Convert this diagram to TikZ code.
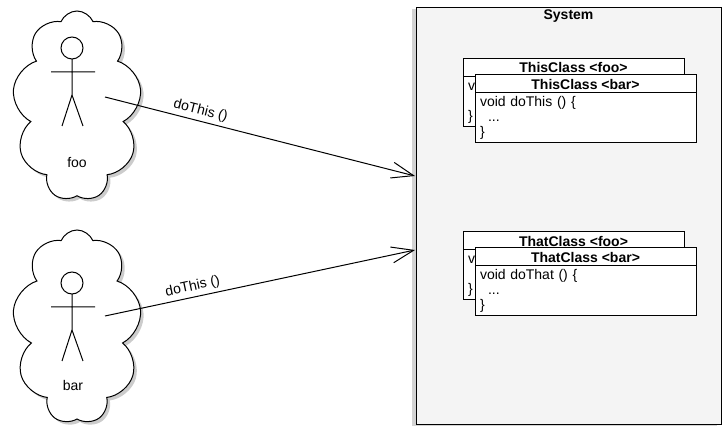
\documentclass[tikz,border=0pt]{standalone}
\usepackage{fontspec}
\setmainfont{Liberation Sans}
\usetikzlibrary{arrows.meta,positioning,shapes.symbols,shadows}
\definecolor{sysgray}{RGB}{244,244,244}
\newcommand{\stickman}[1]{%
  \draw (#1) circle[radius=11pt]
    (#1) ++(0,11) -- ++(0,36)
    (#1) ++(-21,24) -- ++(44,0)
    (#1) ++(0,47) -- ++(-10,31)
    (#1) ++(0,47) -- ++(11,31);
}

\begin{document}
\begin{tikzpicture}[
    x=1pt, y=-1pt,
    line width=1pt,
    font=\fontsize{14}{15}\selectfont,
    >={Straight Barb[length=22pt,width=16pt]},
    actorcloud/.style={cloud, cloud puffs=9, cloud puff arc=135,
      cloud ignores aspect, draw, fill=white, minimum width=129pt,
      drop shadow={shadow xshift=3pt, shadow yshift=-3pt, opacity=.4}},
    sysbox/.style={draw, fill=sysgray, minimum width=305pt,
      minimum height=417pt, inner sep=0pt, outer sep=0pt,
      drop shadow={shadow xshift=-4pt, shadow yshift=-1pt, opacity=.35}},
    systitle/.style={font=\fontsize{14}{15}\selectfont\bfseries, inner sep=1pt},
    classhead/.style={draw, fill=white, minimum width=221pt,
      minimum height=18pt, inner sep=0pt, outer sep=0pt,
      font=\fontsize{14}{15}\selectfont\bfseries},
    classbody/.style={draw, fill=white, text width=211pt, inner xsep=5pt,
      inner ysep=0pt, minimum height=50pt, outer sep=0pt, align=left}]

  \useasboundingbox (0,0) rectangle (723,427);

  % actors
  \node[actorcloud, minimum height=190pt] (foo_cloud) at (77,106) {};
  \node[actorcloud, minimum height=194pt] (bar_cloud) at (77,327) {};
  \coordinate (foo_head) at (72,48);
  \coordinate (bar_head) at (72,283);
  \stickman{foo_head}
  \stickman{bar_head}
  \node (foo_name) at (77,163) {foo};
  \node (bar_name) at (73,385) {bar};

  % system
  \node[sysbox] (system) at (568.5,216.5) {};
  \node[systitle, below=0pt of system.north] (system_title) {System};

  \node[classhead] (this_foo) at (573.5,68) {ThisClass <foo>};
  \node[classbody, below=0pt of this_foo] (this_foo_body)
    {void doThis () \{\\\hspace*{8pt}...\\\}};
  \node[classhead] (this_bar) at (585.5,84) {ThisClass <bar>};
  \node[classbody, below=0pt of this_bar] (this_bar_body)
    {void doThis () \{\\\hspace*{8pt}...\\\}};

  \node[classhead] (that_foo) at (573.5,241) {ThatClass <foo>};
  \node[classbody, below=0pt of that_foo] (that_foo_body)
    {void doThat () \{\\\hspace*{8pt}...\\\}};
  \node[classhead] (that_bar) at (585.5,257) {ThatClass <bar>};
  \node[classbody, below=0pt of that_bar] (that_bar_body)
    {void doThat () \{\\\hspace*{8pt}...\\\}};

  % calls
  \coordinate (foo_hand) at (105,97);
  \coordinate (bar_hand) at (105,316);
  \coordinate (sys_in_foo) at (415,176);
  \coordinate (sys_in_bar) at (415,250);
  \path[->]
    (foo_hand) edge node[sloped, above, pos=.3] {doThis ()} (sys_in_foo)
    (bar_hand) edge node[sloped, above, pos=.29] {doThis ()} (sys_in_bar)
    ;
\end{tikzpicture}
\end{document}
